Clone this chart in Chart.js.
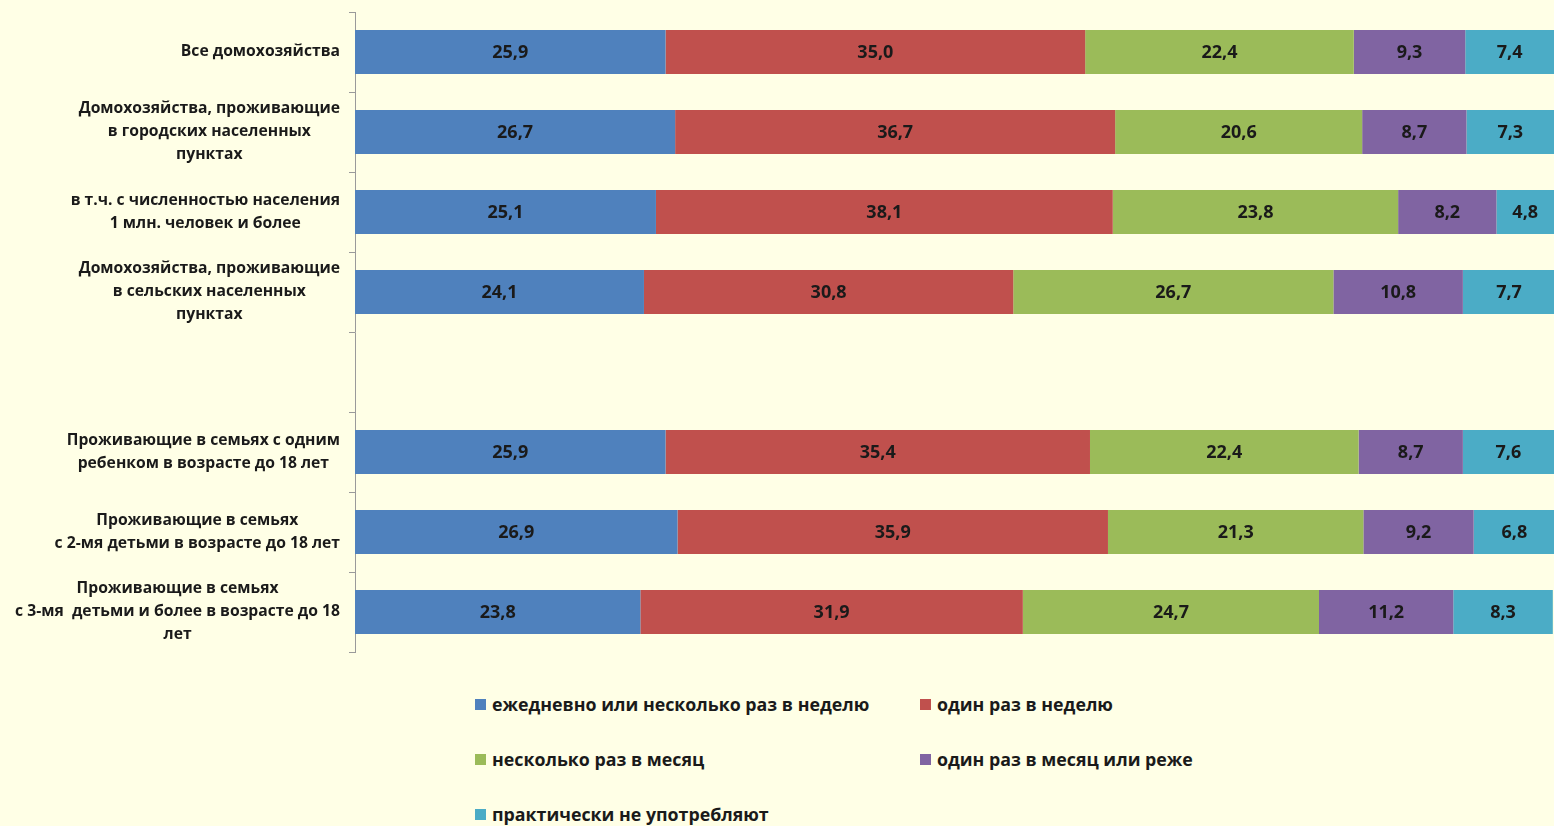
<!DOCTYPE html>
<html lang="ru">
<head>
<meta charset="utf-8">
<script src="https://cdn.jsdelivr.net/npm/chart.js@4/dist/chart.umd.min.js"></script>
<style>
  html, body { margin: 0; padding: 0; background: #ffffe6; }
  #wrap { position: relative; width: 1554px; height: 826px; overflow: hidden; }
  #chart-box { position: absolute; left: 0; top: 0; width: 1554px; height: 662px; }
  #legend {
    position: absolute; left: 475px; top: 693px;
    display: grid; grid-template-columns: 445px 300px; row-gap: 33px;
    font: bold 17.8px "Open Sans", sans-serif; color: #1a1a1a;
  }
  #legend .item { display: flex; align-items: center; height: 22px; }
  #legend .box { width: 11px; height: 11px; margin-right: 6px; }
</style>
</head>
<body>
<div id="wrap">
  <div id="chart-box"><canvas id="c"></canvas></div>
  <div id="legend"></div>
</div>
<script>
// категории (строки диаграммы)
const categories = [
  ['Все домохозяйства'],
  ['Домохозяйства, проживающие', 'в городских населенных', 'пунктах'],
  ['в т.ч. с численностью населения', '1 млн. человек и более'],
  ['Домохозяйства, проживающие', 'в сельских населенных', 'пунктах'],
  [''],
  ['Проживающие в семьях с одним', 'ребенком в возрасте до 18 лет'],
  ['Проживающие в семьях', 'с 2-мя детьми в возрасте до 18 лет'],
  ['Проживающие в семьях', 'с 3-мя  детьми и более в возрасте до 18', 'лет']
];

const seriesNames = [
  'ежедневно или несколько раз в неделю',
  'один раз в неделю',
  'несколько раз в месяц',
  'один раз в месяц или реже',
  'практически не употребляют'
];

const daily   = [25.9, 26.7, 25.1, 24.1, null, 25.9, 26.9, 23.8];
const weekly  = [35.0, 36.7, 38.1, 30.8, null, 35.4, 35.9, 31.9];
const monthly = [22.4, 20.6, 23.8, 26.7, null, 22.4, 21.3, 24.7];
const rarely  = [9.3, 8.7, 8.2, 10.8, null, 8.7, 9.2, 11.2];
const never   = [7.4, 7.3, 4.8, 7.7, null, 7.6, 6.8, 8.3];

const colors = ['#4f81bd', '#c0504d', '#9bbb59', '#8064a2', '#4bacc6'];

const FONT = '"Open Sans", sans-serif';

// подписи значений внутри сегментов
const valueLabels = {
  id: 'valueLabels',
  afterDatasetsDraw(chart) {
    const ctx = chart.ctx;
    ctx.save();
    ctx.font = 'bold 18px ' + FONT;
    ctx.fillStyle = '#1a1a1a';
    ctx.textAlign = 'center';
    ctx.textBaseline = 'middle';
    chart.data.datasets.forEach((ds, di) => {
      chart.getDatasetMeta(di).data.forEach((el, i) => {
        const v = ds.data[i];
        if (v == null) return;
        const { x, y, base } = el.getProps(['x', 'y', 'base'], true);
        ctx.fillText(v.toFixed(1).replace('.', ','), (x + base) / 2, y + 1);
      });
    });
    ctx.restore();
  }
};

// многострочные подписи категорий: блок выровнен вправо, строки по центру
const categoryLabels = {
  id: 'categoryLabels',
  afterDraw(chart) {
    const ctx = chart.ctx;
    const scale = chart.scales.y;
    const lineH = 23;
    ctx.save();
    ctx.font = 'bold 15.7px ' + FONT;
    ctx.fillStyle = '#1a1a1a';
    ctx.textAlign = 'center';
    ctx.textBaseline = 'middle';
    categories.forEach((lines, i) => {
      const y = scale.getPixelForTick(i);
      const w = Math.max(...lines.map(l => ctx.measureText(l).width));
      const cx = 340 - w / 2;
      const y0 = y - (lines.length - 1) * lineH / 2;
      lines.forEach((l, k) => ctx.fillText(l, cx, y0 + k * lineH));
    });
    ctx.restore();
  }
};

const seriesData = [daily, weekly, monthly, rarely, never];

const chart = new Chart(document.getElementById('c'), {
  type: 'bar',
  data: {
    labels: categories.map(c => c.join(' ')),
    datasets: seriesData.map((d, i) => ({
      label: seriesNames[i],
      data: d,
      backgroundColor: colors[i],
      borderWidth: 0,
      categoryPercentage: 1,
      barPercentage: 0.55
    }))
  },
  options: {
    indexAxis: 'y',
    responsive: true,
    maintainAspectRatio: false,
    animation: false,
    layout: { padding: { top: 12, bottom: 10, left: 0, right: 0 } },
    plugins: { legend: { display: false }, tooltip: { enabled: false } },
    scales: {
      x: { stacked: true, min: 0, max: 100, display: false },
      y: {
        stacked: true,
        grid: {
          offset: true,
          drawOnChartArea: false,
          drawTicks: true,
          tickLength: 6,
          color: '#9a9a9a'
        },
        border: { color: '#9a9a9a', width: 1 },
        ticks: { color: 'transparent', font: { size: 1 } },
        afterFit(scale) { scale.width = 355; }
      }
    }
  },
  plugins: [valueLabels, categoryLabels]
});

// легенда
const legendEl = document.getElementById('legend');
seriesNames.forEach((name, i) => {
  const item = document.createElement('div');
  item.className = 'item';
  item.innerHTML = `<span class="box" style="background:${colors[i]}"></span><span>${name}</span>`;
  legendEl.appendChild(item);
});
</script>
</body>
</html>
